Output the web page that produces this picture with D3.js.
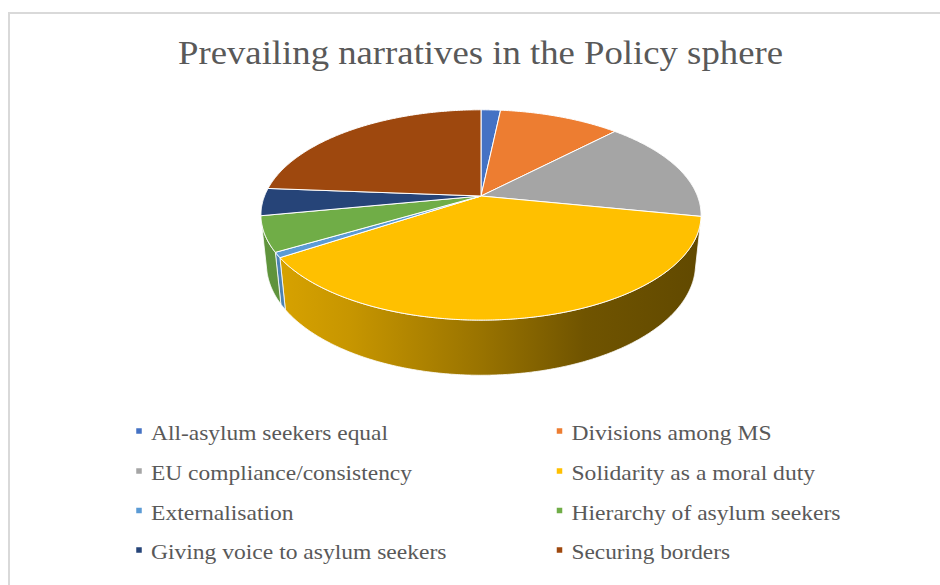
<!DOCTYPE html>
<html>
<head>
<meta charset="utf-8">
<script src="https://cdn.jsdelivr.net/npm/d3@7"></script>
<style>
  html, body { margin: 0; padding: 0; background: #ffffff; }
  svg { display: block; }
</style>
</head>
<body>
<svg id="chart" width="940" height="585"></svg>
<script>
// ---------------- data ----------------
const title = "Prevailing narratives in the Policy sphere";
const categories = [
  "All-asylum seekers equal",
  "Divisions among MS",
  "EU compliance/consistency",
  "Solidarity as a moral duty",
  "Externalisation",
  "Hierarchy of asylum seekers",
  "Giving voice to asylum seekers",
  "Securing borders"
];
const values = [1.7, 10.6, 15.8, 37.7, 0.8, 5.4, 4.2, 23.8];
const colors = ["#4472C4", "#ED7D31", "#A5A5A5", "#FFC000", "#5B9BD5", "#70AD47", "#264478", "#9E480E"];

// ---------------- setup ----------------
const svg = d3.select("#chart");
const W = 940, H = 585;
const serif = "'Liberation Serif', 'Times New Roman', 'DejaVu Serif', 'Noto Serif', serif";

// chart area border
svg.append("rect")
  .attr("x", 9).attr("y", 13)
  .attr("width", W + 20).attr("height", H + 20)
  .attr("fill", "#ffffff")
  .attr("stroke", "#d9d9d9").attr("stroke-width", 2);

// title
svg.append("text")
  .attr("x", 178).attr("y", 64)
  .attr("font-family", serif)
  .attr("font-size", 34)
  .attr("fill", "#595959")
  .attr("textLength", 605)
  .attr("lengthAdjust", "spacingAndGlyphs")
  .text(title);

const color = d3.scaleOrdinal().domain(categories).range(colors);

// ---------------- 3D projection ----------------
const cx = 481, cy = 196;          // projected pie centre
const D = 4.9;                     // camera distance (unit radius)
const F = 1060.7;                  // focal scale
const phi = Math.asin(0.47);       // elevation
const s = Math.sin(phi), c = Math.cos(phi);
const thick = 0.26;                // pie thickness (unit radius)

function project(X, Y, Z) {
  const depth = D - (Y * s + Z * c);
  const v = Y * c - Z * s;
  return [cx + F * X / depth, cy - F * v / depth];
}
function rim(t, Y) { return project(Math.sin(t), Y, -Math.cos(t)); }

// visible range of the outer wall: -1 - D*c*cos(t) > 0
const tv = Math.acos(-1 / (D * c));
const vis0 = tv, vis1 = 2 * Math.PI - tv;

const pie = d3.pie().sort(null).value(d => d.value).startAngle(0).endAngle(2 * Math.PI);
const arcs = pie(categories.map((k, i) => ({ key: k, value: values[i] })));

// gradients for wall shading (lit from the left)
const defs = svg.append("defs");
const shadeStops = [[0, 0.86], [0.2, 0.78], [0.5, 0.6], [0.735, 0.44], [1, 0.38]];
arcs.forEach((a, i) => {
  const g = defs.append("linearGradient")
    .attr("id", "wall" + i)
    .attr("gradientUnits", "userSpaceOnUse")
    .attr("x1", 261).attr("y1", 0).attr("x2", 701).attr("y2", 0);
  const base = d3.rgb(color(a.data.key));
  shadeStops.forEach(([o, k]) => {
    g.append("stop").attr("offset", o)
      .attr("stop-color", d3.rgb(base.r * k, base.g * k, base.b * k).formatHex());
  });
});

const step = Math.PI / 360;
function sample(a0, a1) {
  const n = Math.max(2, Math.ceil((a1 - a0) / step));
  return d3.range(n + 1).map(j => a0 + (a1 - a0) * j / n);
}

const gPie = svg.append("g");

// walls first
arcs.forEach((a, i) => {
  const t0 = Math.max(a.startAngle, vis0), t1 = Math.min(a.endAngle, vis1);
  if (t1 <= t0) return;
  const ts = sample(t0, t1);
  const top = ts.map(t => rim(t, 0));
  const bot = ts.slice().reverse().map(t => rim(t, -thick));
  gPie.append("path")
    .attr("d", d3.line()(top.concat(bot)) + "Z")
    .attr("fill", "url(#wall" + i + ")")
    .attr("stroke", "#ffffff").attr("stroke-width", 0.8)
    .attr("stroke-linejoin", "round");
});

// top faces
arcs.forEach((a, i) => {
  const ts = sample(a.startAngle, a.endAngle);
  const pts = [[cx, cy]].concat(ts.map(t => rim(t, 0)));
  gPie.append("path")
    .attr("d", d3.line()(pts) + "Z")
    .attr("fill", color(a.data.key))
    .attr("stroke", "#ffffff").attr("stroke-width", 1)
    .attr("stroke-linejoin", "round");
});

// ---------------- legend ----------------
const colX = [139, 559.5];
const textX = [151, 571.5];
const rowY = [440, 480, 519.5, 559];
const labelWidths = [237, 200, 261, 243.5, 142.5, 269, 295.5, 158.5];
const legend = svg.append("g");
categories.forEach((k, i) => {
  const col = i % 2, row = Math.floor(i / 2);
  legend.append("rect")
    .attr("x", colX[col] - 2.75).attr("y", rowY[row] - 9 - 2.75)
    .attr("width", 5.5).attr("height", 5.5)
    .attr("fill", color(k));
  legend.append("text")
    .attr("x", textX[col]).attr("y", rowY[row])
    .attr("font-family", serif)
    .attr("font-size", 22)
    .attr("fill", "#595959")
    .attr("textLength", labelWidths[i])
    .attr("lengthAdjust", "spacingAndGlyphs")
    .text(k);
});
</script>
</body>
</html>
